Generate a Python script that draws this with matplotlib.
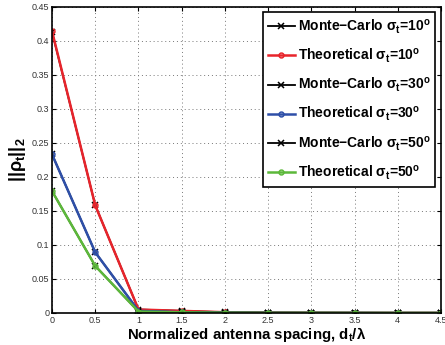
import matplotlib
matplotlib.use("Agg")
import matplotlib.pyplot as plt

plt.rcParams["font.family"] = ["Liberation Sans", "DejaVu Sans"]
plt.rcParams["mathtext.fontset"] = "custom"
plt.rcParams["mathtext.rm"] = "Liberation Sans:bold"
plt.rcParams["mathtext.it"] = "Liberation Sans:bold"
plt.rcParams["mathtext.bf"] = "Liberation Sans:bold"

spacing = [0, 0.5, 1, 1.5, 2, 2.5, 3, 3.5, 4, 4.5]

mc_10 = [0.413, 0.158, 0.005, 0.003, 0.001, 0.0005, 0.0003, 0.0002, 0.0001, 0.0001]
th_10 = [0.414, 0.158, 0.005, 0.003, 0.001, 0.0005, 0.0003, 0.0002, 0.0001, 0.0001]
mc_30 = [0.233, 0.089, 0.003, 0.001, 0.0005, 0.0002, 0.0001, 0.0001, 0.0, 0.0]
th_30 = [0.233, 0.089, 0.003, 0.001, 0.0005, 0.0002, 0.0001, 0.0001, 0.0, 0.0]
mc_50 = [0.179, 0.069, 0.002, 0.0008, 0.0003, 0.0001, 0.0001, 0.0, 0.0, 0.0]
th_50 = [0.179, 0.069, 0.002, 0.0008, 0.0003, 0.0001, 0.0001, 0.0, 0.0, 0.0]

angles = [10, 30, 50]
colors = ["#e8242b", "#2e4fa8", "#5cb83a"]

fig = plt.figure(figsize=(4.45, 3.45), dpi=100)
ax = fig.add_axes([0.117, 0.093, 0.874, 0.887])

for mc, th, a, c in zip([mc_10, mc_30, mc_50], [th_10, th_30, th_50], angles, colors):
    ax.plot(spacing, mc, color="k", marker="x", ms=4.5, mew=1.1, lw=1.3,
            label=r"Monte$-$Carlo $\sigma_t$=%d$^\mathrm{o}$" % a)
    ax.plot(spacing, th, color=c, marker="o", ms=3.5, mfc="none", mew=1.1, lw=1.8,
            label=r"Theoretical $\sigma_t$=%d$^\mathrm{o}$" % a)

ax.set_xlim(0, 4.5)
ax.set_ylim(0, 0.45)
ax.set_xticks(spacing)
ax.set_xticklabels(["0", "0.5", "1", "1.5", "2", "2.5", "3", "3.5", "4", "4.5"])
ax.set_yticks([0, 0.05, 0.1, 0.15, 0.2, 0.25, 0.3, 0.35, 0.4, 0.45])
ax.set_yticklabels(["0", "0.05", "0.1", "0.15", "0.2", "0.25", "0.3", "0.35", "0.4", "0.45"])
ax.tick_params(labelsize=6.5, colors="#333333", direction="in", length=3,
               top=True, right=True, pad=2)
ax.tick_params(color="k")
ax.grid(True, linestyle=(0, (1, 3)), color="#777777", lw=0.7)
for s in ax.spines.values():
    s.set_linewidth(1.2)

ax.set_xlabel(r"Normalized antenna spacing, d$_t$/$\lambda$", fontsize=10.8,
              fontweight="bold", labelpad=0)
ax.set_ylabel(r"$||\rho_t||_2$", fontsize=13, labelpad=3)

leg = ax.legend(loc="upper right", prop={"weight": "bold", "size": 10},
                labelspacing=0.78, handlelength=1.9, handletextpad=0.25,
                borderaxespad=0.4, fancybox=False, framealpha=1, edgecolor="k",
                borderpad=0.35)
leg.get_frame().set_linewidth(1.2)

fig.savefig("out.png", dpi=100)
